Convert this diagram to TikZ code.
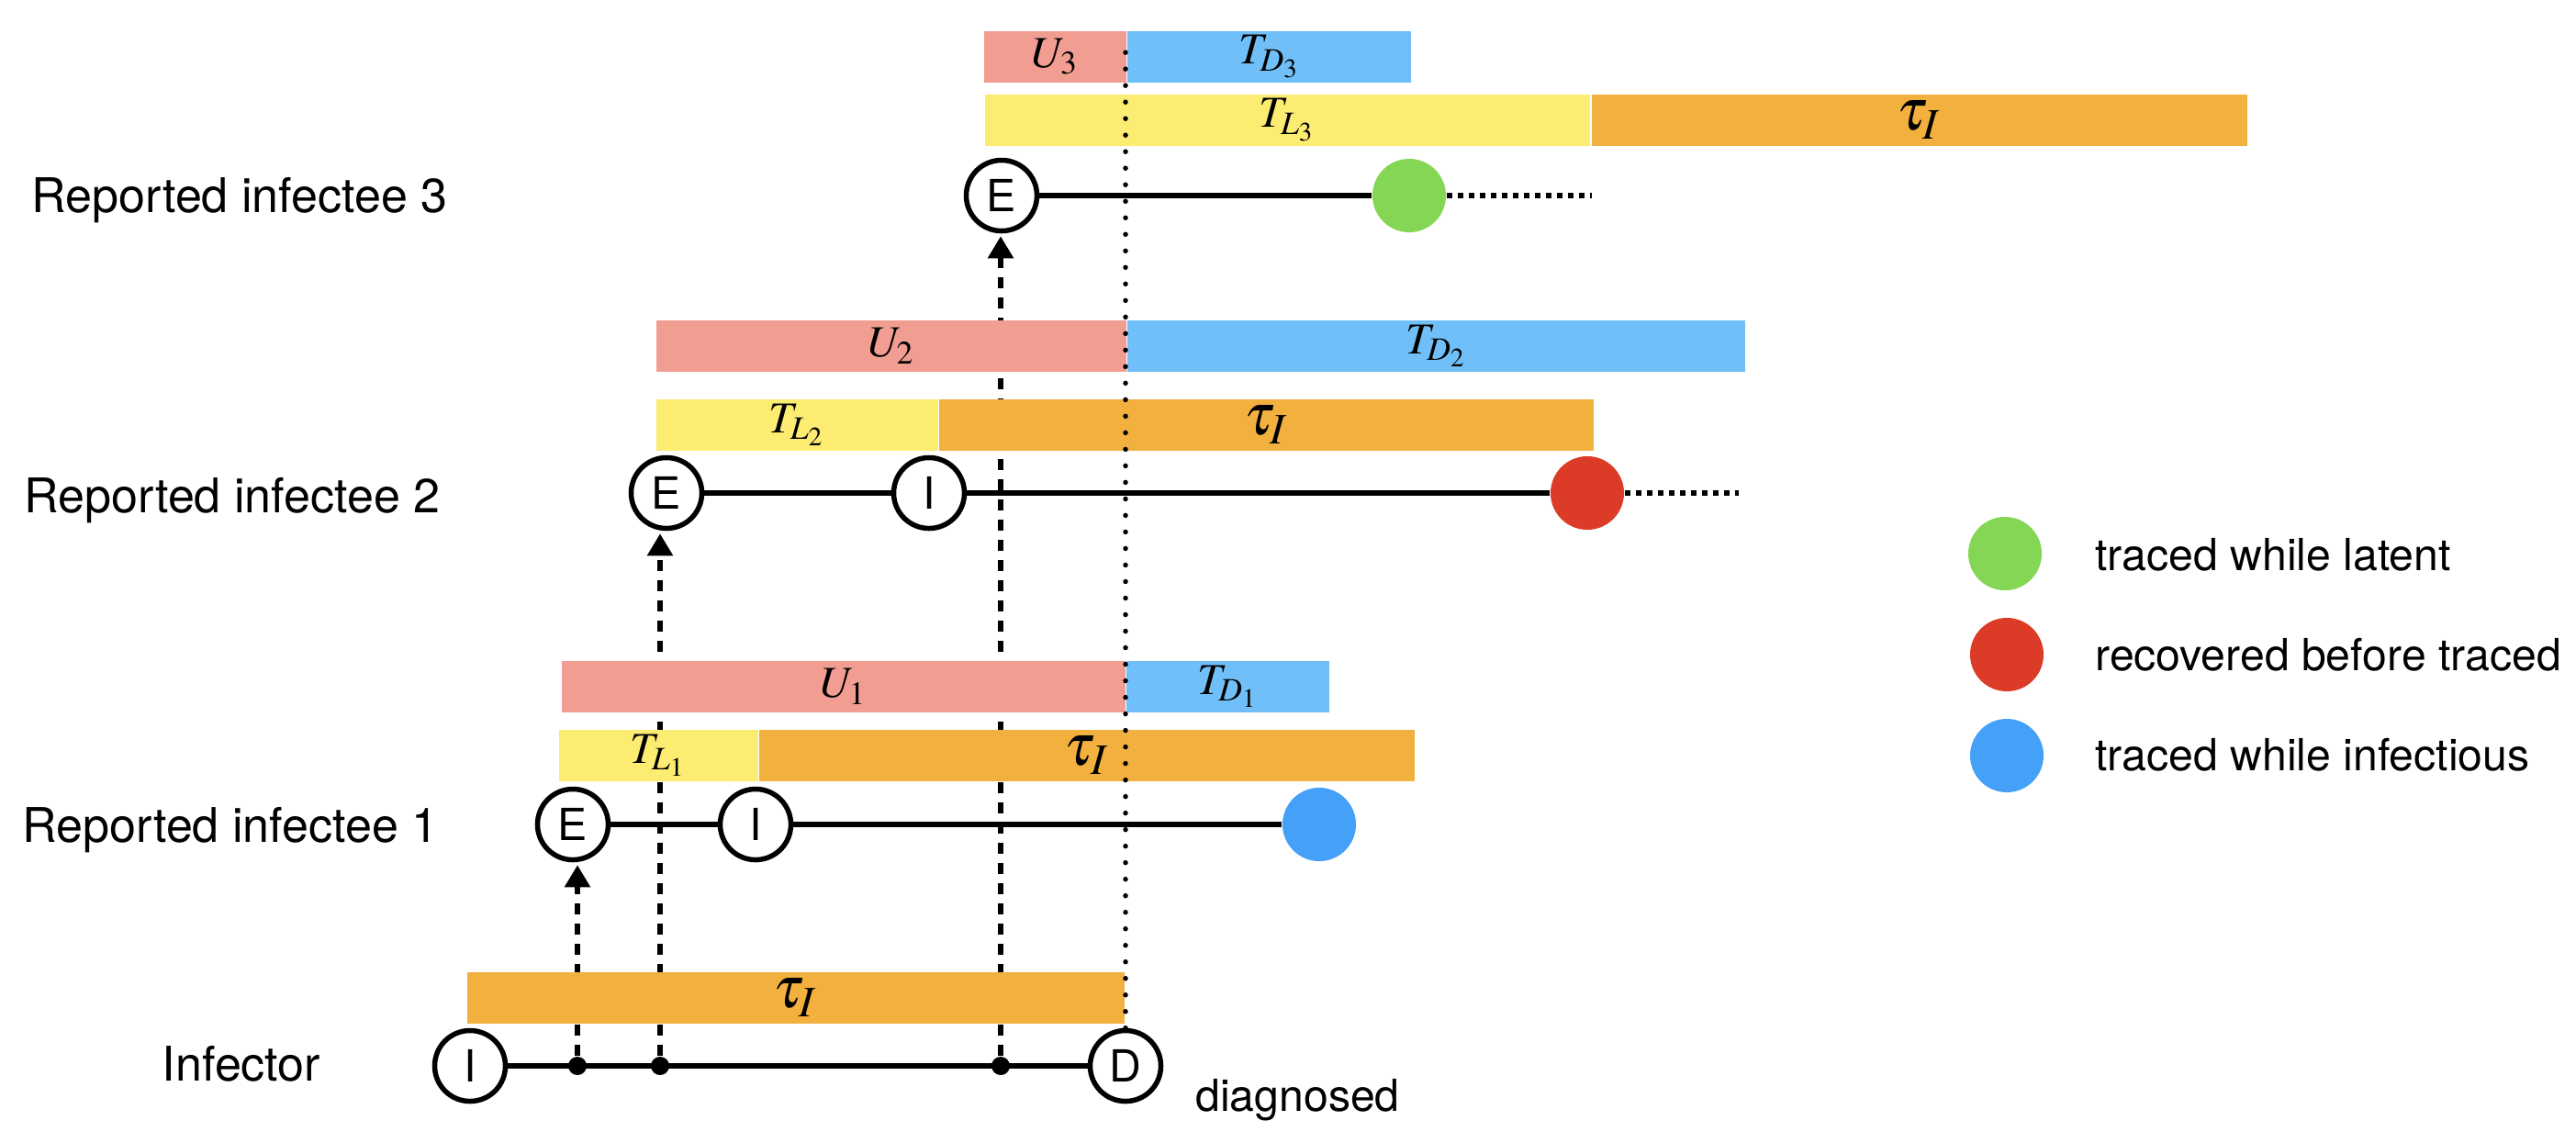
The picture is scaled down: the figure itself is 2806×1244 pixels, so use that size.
\documentclass[tikz,border=0pt]{standalone}
\usepackage{mathptmx}
\usepackage[no-math]{fontspec}
\setmainfont{TeX Gyre Heros}
\usetikzlibrary{arrows.meta,positioning}

\definecolor{uclr}{HTML}{F29D92}
\definecolor{dclr}{HTML}{71BFF8}
\definecolor{lclr}{HTML}{FCEC72}
\definecolor{iclr}{HTML}{F2B03E}
\definecolor{latentdot}{HTML}{84D654}
\definecolor{recdot}{HTML}{DC3B27}
\definecolor{infdot}{HTML}{45A1F7}

\tikzset{
  state/.style={circle, draw, line width=0.055cm, fill=white, minimum size=0.77cm, inner sep=0pt, font=\fontsize{13.7}{16}\selectfont},
  outcome/.style={circle, minimum size=0.8cm, inner sep=0pt},
  event/.style={circle, fill, minimum size=0.2cm, inner sep=0pt},
  period/.style={rectangle, anchor=north west, minimum height=0.56cm, inner sep=0pt, font=\fontsize{13.7}{16}\selectfont},
  tauper/.style={period, fill=iclr, font=\fontsize{18.2}{20}\selectfont},
  rowlabel/.style={anchor=base, font=\fontsize{14.8}{17}\selectfont},
  keytext/.style={anchor=base west, font=\fontsize{13.7}{16}\selectfont},
  timeline/.style={line width=0.055cm},
  contact/.style={line width=0.055cm, dash pattern=on 0.12cm off 0.1cm, shorten >=0.03cm, -{Triangle[length=0.24cm,width=0.27cm]}},
  untraced/.style={line width=0.06cm, dash pattern=on 0.06cm off 0.06cm},
  diagline/.style={line width=0.055cm, line cap=round, dash pattern=on 0pt off 0.18cm},
}

\begin{document}
\begin{tikzpicture}[x=0.01cm, y=-0.01cm]
    \useasboundingbox (0,0) rectangle (2806,1244);

    % infector
    \node[rowlabel] (linf) at (263,1177) {Infector};
    \node[state] (i0) at (512,1161) {I};
    \node[state] (dg) at (1226,1161) {D};
    \node[keytext] (dgtext) at (1290,1210) {diagnosed};
    \node[event] (c1) at (629,1161) {};
    \node[event] (c2) at (719,1161) {};
    \node[event] (c3) at (1090,1161) {};
    \draw[timeline] (i0) -- (dg);

    % reported infectee 1
    \node[rowlabel] (l1) at (251,917) {Reported infectee 1};
    \node[state] (e1) at (624,898) {E};
    \node[state] (i1) at (823,898) {I};
    \node[outcome, fill=infdot] (o1) at (1437,898) {};
    \draw[timeline] (e1) -- (i1) -- (o1);

    % reported infectee 2
    \node[rowlabel] (l2) at (253,558) {Reported infectee 2};
    \node[state] (e2) at (726,537) {E};
    \node[state] (i2) at (1012,537) {I};
    \node[outcome, fill=recdot] (o2) at (1729,537) {};
    \coordinate (end2) at (1894,537);
    \draw[timeline] (e2) -- (i2) -- (o2);
    \draw[untraced] (o2) -- (end2);

    % reported infectee 3
    \node[rowlabel] (l3) at (261,231) {Reported infectee 3};
    \node[state] (e3) at (1091,213) {E};
    \node[outcome, fill=latentdot] (o3) at (1535,213) {};
    \coordinate (end3) at (1734,213);
    \draw[timeline] (e3) -- (o3);
    \draw[untraced] (o3) -- (end3);

    % transmissions
    \draw[contact] (c1) -- (c1 |- e1.south);
    \draw[contact] (c2) -- (c2 |- e2.south);
    \draw[contact] (c3) -- (c3 |- e3.south);

    % periods
    \node[tauper, minimum width=7.16cm] (tau0) at (508,1058) {$\tau_I$};

    \node[period, fill=lclr, minimum width=2.17cm] (tl1) at (608,794) {$T_{L_1}$};
    \node[tauper, minimum width=7.13cm] (tau1) at (tl1.north east) {$\tau_I$};
    \node[period, fill=uclr, minimum width=6.14cm] (u1) at (611,719) {$U_1$};
    \node[period, fill=dclr, minimum width=2.20cm] (td1) at (u1.north east) {$T_{D_1}$};

    \node[period, fill=lclr, minimum width=3.07cm] (tl2) at (714,434) {$T_{L_2}$};
    \node[tauper, minimum width=7.12cm] (tau2) at (tl2.north east) {$\tau_I$};
    \node[period, fill=uclr, minimum width=5.12cm] (u2) at (714,348) {$U_2$};
    \node[period, fill=dclr, minimum width=6.72cm] (td2) at (u2.north east) {$T_{D_2}$};

    \node[period, fill=lclr, minimum width=6.59cm] (tl3) at (1072,102) {$T_{L_3}$};
    \node[tauper, minimum width=7.14cm] (tau3) at (tl3.north east) {$\tau_I$};
    \node[period, fill=uclr, minimum width=1.55cm] (u3) at (1071,33) {$U_3$};
    \node[period, fill=dclr, minimum width=3.09cm] (td3) at (u3.north east) {$T_{D_3}$};

    % diagnosis time
    \coordinate (dtop) at (1226,52);
    \draw[diagline] (dg.north) -- (dtop);

    % legend
    \node[outcome, fill=latentdot] (k1) at (2184,603) {};
    \node[keytext] (k1t) at (2270,621) {traced while latent};
    \node[outcome, fill=recdot] (k2) at (2186,713) {};
    \node[keytext] (k2t) at (2270,730) {recovered before traced};
    \node[outcome, fill=infdot] (k3) at (2186,823) {};
    \node[keytext] (k3t) at (2270,839) {traced while infectious};
\end{tikzpicture}
\end{document}
